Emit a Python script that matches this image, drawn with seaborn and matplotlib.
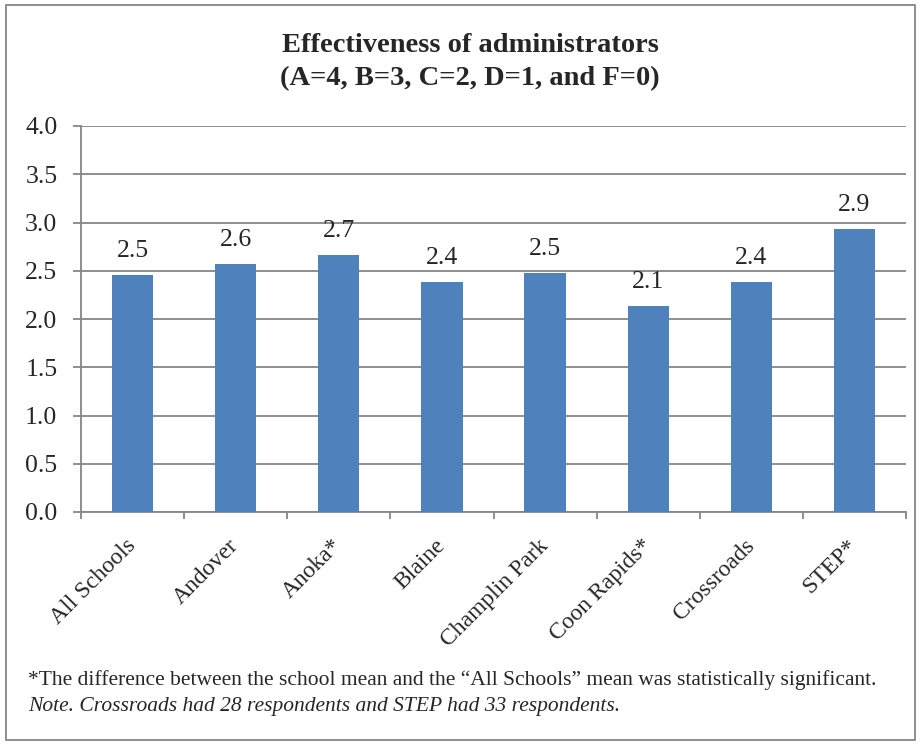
import matplotlib
matplotlib.use("Agg")
import matplotlib.pyplot as plt
import seaborn as sns
import pandas as pd
from matplotlib.patches import Rectangle

schools = ["All Schools", "Andover", "Anoka*", "Blaine", "Champlin Park",
           "Coon Rapids*", "Crossroads", "STEP*"]
means = [2.46, 2.57, 2.66, 2.38, 2.48, 2.13, 2.38, 2.93]
value_labels = ["2.5", "2.6", "2.7", "2.4", "2.5", "2.1", "2.4", "2.9"]
y_ticks = [0.0, 0.5, 1.0, 1.5, 2.0, 2.5, 3.0, 3.5, 4.0]

title = "Effectiveness of administrators\n(A=4, B=3, C=2, D=1, and F=0)"
note1 = "*The difference between the school mean and the \u201cAll Schools\u201d mean was statistically significant."
note2 = "Note. Crossroads had 28 respondents and STEP had 33 respondents."

sns.set_style("white")
plt.rcParams["font.family"] = ["Liberation Serif", "DejaVu Serif"]

df = pd.DataFrame({"school": schools, "mean": means})

fig = plt.figure(figsize=(9.21, 7.45), dpi=100)
W, H = 921, 745
ax = fig.add_axes([81 / W, 1 - 512 / H, (906 - 81) / W, (512 - 126) / H])

sns.barplot(data=df, x="school", y="mean", color="#4F81BD", width=0.4,
            saturation=1, edgecolor="none", ax=ax, zorder=3)

ax.set_ylim(0, 4.0)
ax.set_xlim(-0.5, len(schools) - 0.5)
ax.set_yticks(y_ticks)
ax.set_yticklabels([f"{t:.1f}" for t in y_ticks], fontsize=18.5)
ax.yaxis.grid(True, color="#868686", linewidth=1.3, zorder=0)
ax.set_axisbelow(True)
ax.set_xlabel("")
ax.set_ylabel("")

for s in ["top", "right"]:
    ax.spines[s].set_visible(False)
for s in ["left", "bottom"]:
    ax.spines[s].set_color("#868686")
    ax.spines[s].set_linewidth(1.3)

ax.tick_params(axis="y", which="major", direction="out", length=6, width=1.3,
               color="#868686", left=True, pad=11)
# x category labels
ax.set_xticks(range(len(schools)))
ax.set_xticklabels(schools, rotation=45, ha="right", va="center",
                   rotation_mode="anchor", fontsize=17)
ax.tick_params(axis="x", which="major", length=0, pad=22)
# boundary ticks between categories
ax.set_xticks([i - 0.5 for i in range(len(schools) + 1)], minor=True)
ax.tick_params(axis="x", which="minor", direction="out", length=5, width=1.3,
               color="#868686", bottom=True)

for i, (v, lab) in enumerate(zip(means, value_labels)):
    ax.annotate(lab, (i, v), xytext=(0, 13), textcoords="offset points",
                ha="center", va="baseline", fontsize=18.5)

fig.text(470 / W, 1 - 62 / H, title, ha="center", va="center", fontsize=20.5,
         fontweight="bold", linespacing=1.4)

fig.text(28 / W, 1 - 680 / H, note1, ha="left", va="center", fontsize=15.5)
fig.text(28 / W, 1 - 706 / H, note2, ha="left", va="center", fontsize=15.5,
         style="italic")

fig.patches.append(Rectangle((6 / W, 5 / H), (915 - 6) / W, (740 - 5) / H,
                             transform=fig.transFigure, fill=False,
                             edgecolor="#868686", linewidth=1.3))

fig.savefig("out.png", dpi=100, facecolor="white")
